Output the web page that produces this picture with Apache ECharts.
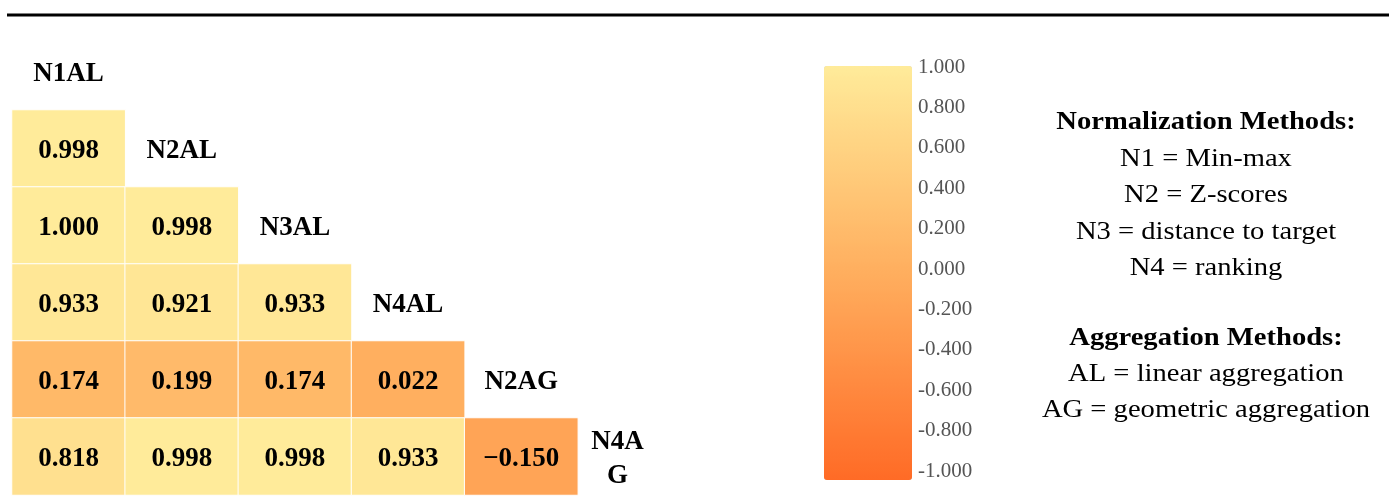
<!DOCTYPE html>
<html>
<head>
<meta charset="utf-8">
<script src="https://cdn.jsdelivr.net/npm/echarts@6/dist/echarts.min.js"></script>
<style>
    html, body { margin: 0; padding: 0; background: #fff; }
    #main { width: 1389px; height: 499px; }
</style>
</head>
<body>
<div id="main"></div>
<script>
    // indicator names (diagonal)
    var methods = ['N1AL', 'N2AL', 'N3AL', 'N4AL', 'N2AG', 'N4AG'];
    var methodLabels = ['N1AL', 'N2AL', 'N3AL', 'N4AL', 'N2AG', 'N4A\nG'];

    // lower triangle, one array per row (row = methods[i+1])
    var rowN2AL = [0.998];
    var rowN3AL = [1.000, 0.998];
    var rowN4AL = [0.933, 0.921, 0.933];
    var rowN2AG = [0.174, 0.199, 0.174, 0.022];
    var rowN4AG = [0.818, 0.998, 0.998, 0.933, -0.150];

    // colour bar
    var scaleMin = -1;
    var scaleMax = 1;
    var scaleStep = 0.2;

    var legendNorm = ['N1 = Min-max', 'N2 = Z-scores', 'N3 = distance to target', 'N4 = ranking'];
    var legendAggr = ['AL = linear aggregation', 'AG = geometric aggregation'];

    var rows = [rowN2AL, rowN3AL, rowN4AL, rowN2AG, rowN4AG];
    var cells = [];
    rows.forEach(function (r, i) {
        r.forEach(function (v, j) {
            cells.push([j, i + 1, v]);
        });
    });
    var diag = methods.map(function (m, i) {
        var d = { value: [i, i], name: methodLabels[i] };
        // last name wraps in the narrow cell, sits a bit to the left
        if (i === methods.length - 1) d.label = { offset: [-17, 3] };
        return d;
    });

    var serif = '"Liberation Serif", "DejaVu Serif", serif';

    var chart = echarts.init(document.getElementById('main'));
    var option = {
        animation: false,
        grid: [
            { left: 12, top: 33, width: 679, height: 462 },
            { left: 824, top: 67, width: 88, height: 404 }
        ],
        xAxis: [
            { type: 'category', data: methods, gridIndex: 0, show: false },
            { type: 'value', gridIndex: 1, show: false, min: 0, max: 1 }
        ],
        yAxis: [
            { type: 'category', data: methods, gridIndex: 0, inverse: true, show: false },
            {
                type: 'value', gridIndex: 1, position: 'right',
                min: scaleMin, max: scaleMax, interval: scaleStep,
                axisLine: { show: false }, axisTick: { show: false }, splitLine: { show: false },
                axisLabel: {
                    margin: 6, color: '#555', fontFamily: serif, fontSize: 21,
                    formatter: function (v) { return v.toFixed(3); }
                }
            }
        ],
        visualMap: {
            type: 'continuous',
            min: scaleMin,
            max: scaleMax,
            seriesIndex: 0,
            left: 824,
            top: 66,
            padding: 0,
            itemWidth: 88,
            itemHeight: 414,
            calculable: false,
            inRange: { color: ['#FF6B26', '#FFAE5E', '#FFEB9A'] }
        },
        series: [
            {
                type: 'heatmap',
                xAxisIndex: 0,
                yAxisIndex: 0,
                data: cells,
                itemStyle: { borderColor: '#fff', borderWidth: 1 },
                label: {
                    show: true,
                    color: '#000',
                    fontFamily: serif,
                    fontWeight: 'bold',
                    fontSize: 27,
                    offset: [0, 3],
                    formatter: function (p) {
                        return p.value[2].toFixed(3).replace('-', '\u2212');
                    }
                }
            },
            {
                type: 'scatter',
                xAxisIndex: 0,
                yAxisIndex: 0,
                symbolSize: 0,
                itemStyle: { opacity: 1 },
                data: diag,
                label: {
                    show: true,
                    position: 'inside',
                    color: '#000',
                    opacity: 1,
                    fontFamily: serif,
                    fontWeight: 'bold',
                    fontSize: 27,
                    lineHeight: 34,
                    offset: [0, 3],
                    formatter: '{b}'
                }
            },
            { type: 'line', xAxisIndex: 1, yAxisIndex: 1, data: [] }
        ],
        graphic: [
            {
                type: 'line',
                shape: { x1: 7, y1: 15, x2: 1389, y2: 15 },
                style: { stroke: '#000', lineWidth: 3 }
            }
        ]
    };

    // methods text on the right (original type is wide, so stretch a little)
    var textX = 1206;
    function addText(t, y, bold) {
        option.graphic.push({
            type: 'text', x: textX, y: y, scaleX: 1.1,
            style: {
                text: t, font: (bold ? 'bold ' : '') + '26px ' + serif,
                fill: '#000', textAlign: 'center', textVerticalAlign: 'middle'
            }
        });
    }
    addText('Normalization Methods:', 122, true);
    legendNorm.forEach(function (t, i) { addText(t, 159 + i * 36.5, false); });
    addText('Aggregation Methods:', 338, true);
    legendAggr.forEach(function (t, i) { addText(t, 374 + i * 36, false); });

    chart.setOption(option);
</script>
</body>
</html>
